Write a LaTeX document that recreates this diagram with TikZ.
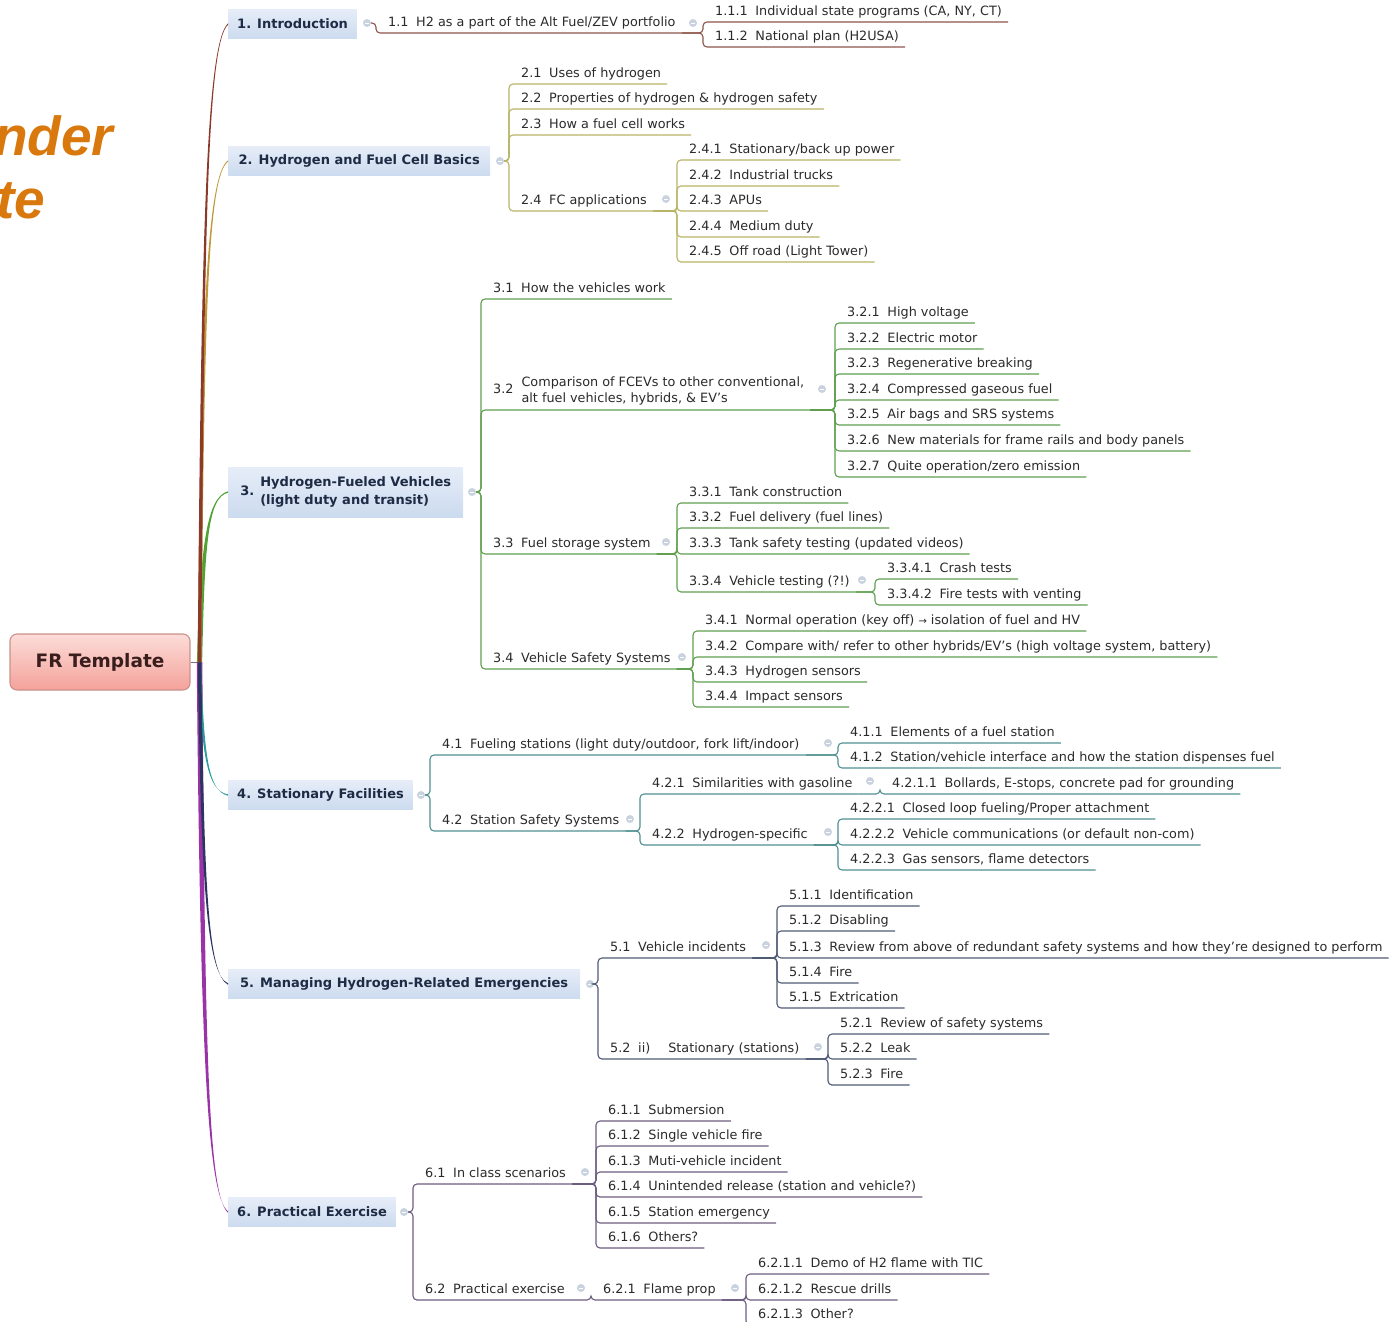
\documentclass[tikz,border=0pt]{standalone}
\usepackage{fontspec}
\setmainfont{DejaVu Sans}
\newfontfamily\titlefont{Liberation Sans}
\usetikzlibrary{calc}
\definecolor{cA}{HTML}{8E5448}
\definecolor{cB}{HTML}{B8B466}
\definecolor{cC}{HTML}{5E9E4E}
\definecolor{cD}{HTML}{4F8F90}
\definecolor{cE}{HTML}{4E5A74}
\definecolor{cF}{HTML}{6E5C80}
\definecolor{rA}{HTML}{8B3A2A}
\definecolor{rB}{HTML}{C09A3A}
\definecolor{rC}{HTML}{4FA233}
\definecolor{rD}{HTML}{2E9C9C}
\definecolor{rE}{HTML}{2B3560}
\definecolor{rF}{HTML}{9A33A8}
\definecolor{orng}{HTML}{D9780C}
\definecolor{lt}{HTML}{2A2A2A}
\definecolor{st}{HTML}{1E2B45}
\definecolor{mkc}{HTML}{C9D3E0}
\definecolor{secTop}{HTML}{E6EDF8}
\definecolor{secBot}{HTML}{CCDBEF}
\definecolor{rootTop}{HTML}{FCDCD8}
\definecolor{rootBot}{HTML}{F4A29B}
\definecolor{rootDraw}{HTML}{C9928B}
\definecolor{rootText}{HTML}{3A1E1E}
\newcommand\gap{\hskip 0.6em}
\newcommand\lf{\fontsize{12.8}{16}\selectfont}
\newcommand\lnk[3]{\draw[lk,#1] (#2) -| ([xshift=-6pt]#3.south west) -- (#3.south east);}
\newcommand\rootlink[3]{%
 \fill[#1] let \p1=(hub), \p2=(#2.west) in
 ({\x1-#3pt},\y1) .. controls ({\x1+3pt-0.8*#3pt},{\y1+0.7*(\y2-\y1)}) and ({\x1+7.5pt},{\y2-0.03*(\y2-\y1)}) .. (\x2,{\y2+0.7pt})
 -- (\x2,{\y2-0.7pt}) .. controls ({\x1+8.5pt},{\y2-0.03*(\y2-\y1)}) and ({\x1+3pt+0.8*#3pt},{\y1+0.7*(\y2-\y1)}) .. ({\x1+#3pt},\y1) -- cycle;}
\begin{document}
\begin{tikzpicture}[x=1pt,y=-1pt,
 leaf/.style={anchor=south west, xshift=6pt, inner xsep=6pt, inner ysep=2pt, text height=10pt, text depth=4pt, font=\lf, text=lt},
 leaftwo/.style={anchor=south west, xshift=6pt, inner xsep=6pt, inner ysep=3pt, font=\lf, text=lt},
 lk/.style={line width=1.1pt, rounded corners=4pt},
 mk/.style={circle, inner sep=0pt, minimum size=8pt, fill=mkc, path picture={\draw[white,line width=0.9pt] ([xshift=1.8pt]path picture bounding box.west) -- ([xshift=-1.8pt]path picture bounding box.east);}},
 sec/.style={rectangle, anchor=west, inner xsep=9pt, minimum height=29pt, top color=secTop, bottom color=secBot, font=\fontsize{13}{18}\selectfont\bfseries, text=st},
 root/.style={rectangle, rounded corners=7pt, minimum width=180pt, minimum height=56pt, top color=rootTop, bottom color=rootBot, draw=rootDraw, line width=1.1pt, font=\fontsize{18.5}{22}\selectfont\bfseries, text=rootText}
]
\useasboundingbox (0,0) rectangle (1400,1322);
\clip (0,0) rectangle (1400,1322);

% title fragments
\node[anchor=base west, inner sep=0pt, text=orng, font=\titlefont\bfseries\itshape\fontsize{55}{60}\selectfont] (t1) at (-6,155) {nder};
\node[anchor=base west, inner sep=0pt, text=orng, font=\titlefont\bfseries\itshape\fontsize{55}{60}\selectfont] (t2) at (-4,218) {te};

% root and main topics
\node[root] (root) at (100,662) {FR Template};
\coordinate (hub) at ([xshift=9pt]root.east);
\node[sec, minimum width=128pt] (b1) at (228,24) {1. Introduction};
\node[sec, minimum width=262pt] (b2) at (228,161) {2. Hydrogen and Fuel Cell Basics};
\node[sec, minimum width=235pt, minimum height=50pt] (b3) at (228,492) {3.\hskip 6pt\begin{tabular}[c]{@{}l@{}}Hydrogen-Fueled Vehicles\\(light duty and transit)\end{tabular}};
\node[sec, minimum width=182pt] (b4) at (228,795) {4. Stationary Facilities};
\node[sec, minimum width=352pt] (b5) at (228,984) {5. Managing Hydrogen-Related Emergencies};
\node[sec, minimum width=165pt] (b6) at (228,1212) {6. Practical Exercise};

\draw[line width=1pt, black!55] (root.east) -- (hub);
\rootlink{rC}{b3}{2.6}
\rootlink{rF}{b6}{2.8}
\rootlink{rD}{b4}{1.6}
\rootlink{rE}{b5}{1.8}
\rootlink{rB}{b2}{2.0}
\rootlink{rA}{b1}{1.8}

% markers
\node[mk] (m1) at (367,23) {};
\node[mk] (m11) at (693,23) {};
\node[mk] (m2) at (500,161) {};
\node[mk] (m24) at (666,199) {};
\node[mk] (m3) at (472,492) {};
\node[mk] (m32) at (822,389) {};
\node[mk] (m33) at (666,542) {};
\node[mk] (m334) at (862,580) {};
\node[mk] (m34) at (682,657) {};
\node[mk] (m4) at (421,795) {};
\node[mk] (m41) at (828,743) {};
\node[mk] (m42) at (630,819) {};
\node[mk] (m421) at (870,781) {};
\node[mk] (m422) at (828,832) {};
\node[mk] (m5) at (590,984) {};
\node[mk] (m51) at (766,945) {};
\node[mk] (m52) at (818,1047) {};
\node[mk] (m6) at (404,1212) {};
\node[mk] (m61) at (585,1172) {};
\node[mk] (m62) at (581,1288) {};
\node[mk] (m621) at (735,1288) {};

% ---- Section 1
\node[leaf] (n11) at (376,33) {1.1\gap H2 as a part of the Alt Fuel/ZEV portfolio};
\node[leaf] (n111) at (703,22) {1.1.1\gap Individual state programs (CA, NY, CT)};
\node[leaf] (n112) at (703,47) {1.1.2\gap National plan (H2USA)};
\lnk{cA}{m1.east}{n11}
\lnk{cA}{n11.south east}{n111}
\lnk{cA}{n11.south east}{n112}

% ---- Section 2
\node[leaf] (n21) at (509,84) {2.1\gap Uses of hydrogen};
\node[leaf] (n22) at (509,109) {2.2\gap Properties of hydrogen \& hydrogen safety};
\node[leaf] (n23) at (509,135) {2.3\gap How a fuel cell works};
\node[leaf] (n24) at (509,211) {2.4\gap FC applications};
\node[leaf] (n241) at (677,160) {2.4.1\gap Stationary/back up power};
\node[leaf] (n242) at (677,186) {2.4.2\gap Industrial trucks};
\node[leaf] (n243) at (677,211) {2.4.3\gap APUs};
\node[leaf] (n244) at (677,237) {2.4.4\gap Medium duty};
\node[leaf] (n245) at (677,262) {2.4.5\gap Off road (Light Tower)};
\foreach \c in {n21,n22,n23,n24} {\lnk{cB}{m2.east}{\c}}
\foreach \c in {n241,n242,n243,n244,n245} {\lnk{cB}{n24.south east}{\c}}

% ---- Section 3
\node[leaf] (n31) at (481,299) {3.1\gap How the vehicles work};
\node[leaftwo] (n32) at (481,410) {3.2\hskip 8pt\begin{tabular}[c]{@{}l@{}}Comparison of FCEVs to other conventional,\\alt fuel vehicles, hybrids, \& EV’s\end{tabular}};
\node[leaf] (n321) at (835,323) {3.2.1\gap High voltage};
\node[leaf] (n322) at (835,349) {3.2.2\gap Electric motor};
\node[leaf] (n323) at (835,374) {3.2.3\gap Regenerative breaking};
\node[leaf] (n324) at (835,400) {3.2.4\gap Compressed gaseous fuel};
\node[leaf] (n325) at (835,425) {3.2.5\gap Air bags and SRS systems};
\node[leaf] (n326) at (835,451) {3.2.6\gap New materials for frame rails and body panels};
\node[leaf] (n327) at (835,477) {3.2.7\gap Quite operation/zero emission};
\node[leaf] (n33) at (481,554) {3.3\gap Fuel storage system};
\node[leaf] (n331) at (677,503) {3.3.1\gap Tank construction};
\node[leaf] (n332) at (677,528) {3.3.2\gap Fuel delivery (fuel lines)};
\node[leaf] (n333) at (677,554) {3.3.3\gap Tank safety testing (updated videos)};
\node[leaf] (n334) at (677,592) {3.3.4\gap Vehicle testing (?!)};
\node[leaf] (n3341) at (875,579) {3.3.4.1\gap Crash tests};
\node[leaf] (n3342) at (875,605) {3.3.4.2\gap Fire tests with venting};
\node[leaf] (n34) at (481,669) {3.4\gap Vehicle Safety Systems};
\node[leaf] (n341) at (693,631) {3.4.1\gap Normal operation (key off) {\fontsize{10}{12}\selectfont →} isolation of fuel and HV};
\node[leaf] (n342) at (693,657) {3.4.2\gap Compare with/ refer to other hybrids/EV’s (high voltage system, battery)};
\node[leaf] (n343) at (693,682) {3.4.3\gap Hydrogen sensors};
\node[leaf] (n344) at (693,707) {3.4.4\gap Impact sensors};
\foreach \c in {n31,n32,n33,n34} {\lnk{cC}{m3.east}{\c}}
\foreach \c in {n321,n322,n323,n324,n325,n326,n327} {\lnk{cC}{n32.south east}{\c}}
\foreach \c in {n331,n332,n333,n334} {\lnk{cC}{n33.south east}{\c}}
\foreach \c in {n3341,n3342} {\lnk{cC}{n334.south east}{\c}}
\foreach \c in {n341,n342,n343,n344} {\lnk{cC}{n34.south east}{\c}}

% ---- Section 4
\node[leaf] (n41) at (430,755) {4.1\gap Fueling stations (light duty/outdoor, fork lift/indoor)};
\node[leaf] (n411) at (838,743) {4.1.1\gap Elements of a fuel station};
\node[leaf] (n412) at (838,768) {4.1.2\gap Station/vehicle interface and how the station dispenses fuel};
\node[leaf] (n42) at (430,831) {4.2\gap Station Safety Systems};
\node[leaf] (n421) at (640,794) {4.2.1\gap Similarities with gasoline};
\node[leaf] (n4211) at (880,794) {4.2.1.1\gap Bollards, E-stops, concrete pad for grounding};
\node[leaf] (n422) at (640,845) {4.2.2\gap Hydrogen-specific};
\node[leaf] (n4221) at (838,819) {4.2.2.1\gap Closed loop fueling/Proper attachment};
\node[leaf] (n4222) at (838,845) {4.2.2.2\gap Vehicle communications (or default non-com)};
\node[leaf] (n4223) at (838,870) {4.2.2.3\gap Gas sensors, flame detectors};
\foreach \c in {n41,n42} {\lnk{cD}{m4.east}{\c}}
\foreach \c in {n411,n412} {\lnk{cD}{n41.south east}{\c}}
\foreach \c in {n421,n422} {\lnk{cD}{n42.south east}{\c}}
\lnk{cD}{n421.south east}{n4211}
\foreach \c in {n4221,n4222,n4223} {\lnk{cD}{n422.south east}{\c}}

% ---- Section 5
\node[leaf] (n51) at (598,958) {5.1\gap Vehicle incidents};
\node[leaf] (n511) at (777,906) {5.1.1\gap Identification};
\node[leaf] (n512) at (777,931) {5.1.2\gap Disabling};
\node[leaf] (n513) at (777,958) {5.1.3\gap Review from above of redundant safety systems and how they’re designed to perform};
\node[leaf] (n514) at (777,983) {5.1.4\gap Fire};
\node[leaf] (n515) at (777,1008) {5.1.5\gap Extrication};
\node[leaf] (n52) at (598,1059) {5.2\gap ii)\hskip 18pt Stationary (stations)};
\node[leaf] (n521) at (828,1034) {5.2.1\gap Review of safety systems};
\node[leaf] (n522) at (828,1059) {5.2.2\gap Leak};
\node[leaf] (n523) at (828,1085) {5.2.3\gap Fire};
\foreach \c in {n51,n52} {\lnk{cE}{m5.east}{\c}}
\foreach \c in {n511,n512,n513,n514,n515} {\lnk{cE}{n51.south east}{\c}}
\foreach \c in {n521,n522,n523} {\lnk{cE}{n52.south east}{\c}}

% ---- Section 6
\node[leaf] (n61) at (413,1184) {6.1\gap In class scenarios};
\node[leaf] (n611) at (596,1121) {6.1.1\gap Submersion};
\node[leaf] (n612) at (596,1146) {6.1.2\gap Single vehicle fire};
\node[leaf] (n613) at (596,1172) {6.1.3\gap Muti-vehicle incident};
\node[leaf] (n614) at (596,1197) {6.1.4\gap Unintended release (station and vehicle?)};
\node[leaf] (n615) at (596,1223) {6.1.5\gap Station emergency};
\node[leaf] (n616) at (596,1248) {6.1.6\gap Others?};
\node[leaf] (n62) at (413,1300) {6.2\gap Practical exercise};
\node[leaf] (n621) at (591,1300) {6.2.1\gap Flame prop};
\node[leaf] (n6211) at (746,1274) {6.2.1.1\gap Demo of H2 flame with TIC};
\node[leaf] (n6212) at (746,1300) {6.2.1.2\gap Rescue drills};
\node[leaf] (n6213) at (746,1325) {6.2.1.3\gap Other?};
\foreach \c in {n61,n62} {\lnk{cF}{m6.east}{\c}}
\foreach \c in {n611,n612,n613,n614,n615,n616} {\lnk{cF}{n61.south east}{\c}}
\lnk{cF}{n62.south east}{n621}
\foreach \c in {n6211,n6212,n6213} {\lnk{cF}{n621.south east}{\c}}
\end{tikzpicture}
\end{document}
